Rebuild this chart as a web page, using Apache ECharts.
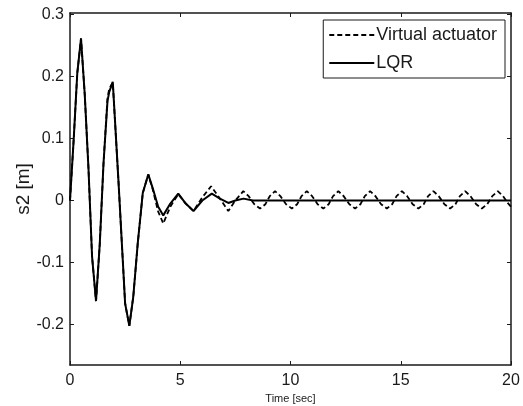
<!DOCTYPE html>
<html>
<head>
<meta charset="utf-8">
<script src="https://cdn.jsdelivr.net/npm/echarts@6/dist/echarts.min.js"></script>
<style>
  html, body { margin: 0; padding: 0; background: #fff; }
  #chart { width: 523px; height: 406px; }
</style>
</head>
<body>
<div id="chart"></div>
<script>
// values
const timeLqr = [0, 0.17, 0.33, 0.5, 0.67, 0.84, 1.0, 1.18, 1.35, 1.52, 1.7, 1.78, 1.94, 2.2, 2.5, 2.69,
  2.87, 3.07, 3.3, 3.55, 3.75, 4.0, 4.23, 4.55, 4.91, 5.25, 5.6, 6.0, 6.43, 6.8, 7.18, 7.5, 7.87, 8.3, 20];
const lqr = [0, 0.1, 0.205, 0.261, 0.17, 0.05, -0.09, -0.162, -0.07, 0.06, 0.16, 0.175, 0.191, 0.03, -0.166, -0.202,
  -0.155, -0.07, 0.012, 0.042, 0.02, -0.01, -0.024, -0.005, 0.011, -0.005, -0.017, 0, 0.011, 0.003, -0.004, 0, 0.003, 0, 0];

const timeVa = [0, 0.17, 0.33, 0.5, 0.67, 0.84, 1.0, 1.18, 1.35, 1.52, 1.7, 1.78, 1.94, 2.2, 2.5, 2.69,
  2.87, 3.07, 3.3, 3.55, 3.75, 4.0, 4.23, 4.55, 4.91, 5.25, 5.6, 6.0, 6.4, 6.8, 7.18, 7.5,
  7.86, 8.1, 8.36, 8.62, 8.86, 9.06, 9.3, 9.54, 9.8, 10.06, 10.3, 10.5, 10.74, 10.98, 11.23, 11.49,
  11.73, 11.93, 12.17, 12.41, 12.67, 12.93, 13.17, 13.37, 13.61, 13.85, 14.11, 14.37, 14.61, 14.81,
  15.05, 15.29, 15.54, 15.8, 16.04, 16.24, 16.48, 16.72, 16.98, 17.24, 17.48, 17.68, 17.92, 18.16,
  18.42, 18.68, 18.92, 19.15, 19.4, 19.64, 19.85, 20];
const virtualActuator = [0, 0.1, 0.205, 0.261, 0.17, 0.05, -0.09, -0.162, -0.07, 0.06, 0.165, 0.18, 0.19, 0.03, -0.166, -0.202,
  -0.155, -0.07, 0.012, 0.042, 0.018, -0.018, -0.037, -0.01, 0.01, -0.005, -0.017, 0.005, 0.023, 0.003, -0.017, 0,
  0.015, 0.007, -0.006, -0.013, -0.006, 0.007, 0.015, 0.007, -0.006, -0.013, -0.006, 0.007, 0.015, 0.007, -0.006, -0.013,
  -0.006, 0.007, 0.015, 0.007, -0.006, -0.013, -0.006, 0.007, 0.015, 0.007, -0.006, -0.013, -0.006, 0.007,
  0.015, 0.007, -0.006, -0.013, -0.006, 0.007, 0.015, 0.007, -0.006, -0.013, -0.006, 0.007, 0.015, 0.007,
  -0.006, -0.013, -0.006, 0.007, 0.015, 0.007, -0.004, -0.01];

const yTicks = [-0.2, -0.1, 0, 0.1, 0.2, 0.3];
const xTicks = [0, 5, 10, 15, 20];

const pair = (ts, vs) => ts.map((t, i) => [t, vs[i]]);

const chart = echarts.init(document.getElementById('chart'));
const font = 'Liberation Sans, Arial, sans-serif';
const ink = '#1a1a1a';

const axisLine = { show: true, onZero: false, lineStyle: { color: ink, width: 1.5 } };
const tickIn = { show: true, inside: true, length: 4, lineStyle: { color: ink, width: 1 } };

chart.setOption({
  animation: false,
  backgroundColor: '#fff',
  grid: { left: 70, right: 12, top: 13, bottom: 41, outerBoundsMode: 'none', containLabel: false },
  legend: {
    right: 18, top: 20,
    orient: 'vertical',
    backgroundColor: '#fff',
    borderColor: ink, borderWidth: 1,
    padding: [6, 8, 6, 5],
    itemWidth: 45, itemHeight: 18, itemGap: 10,
    itemStyle: { opacity: 0 },
    textStyle: { fontFamily: font, fontSize: 18, color: ink, padding: [0, 0, 0, -3] },
    data: ['Virtual actuator', 'LQR']
  },
  xAxis: [{
    type: 'value', min: 0, max: 20, interval: 5,
    name: 'Time [sec]', nameLocation: 'middle', nameGap: 28, nameMoveOverlap: false,
    nameTextStyle: { fontFamily: font, fontSize: 11, color: ink },
    axisLine, axisTick: tickIn, splitLine: { show: false },
    axisLabel: { fontFamily: font, fontSize: 16, color: ink, margin: 8,
      customValues: xTicks }
  }, {
    type: 'value', min: 0, max: 20, interval: 5, position: 'top',
    axisLine, axisTick: tickIn, axisLabel: { show: false }, splitLine: { show: false }
  }],
  yAxis: [{
    type: 'value', min: -0.265, max: 0.302,
    name: 's2 [m]', nameLocation: 'middle', nameGap: 37, nameMoveOverlap: false,
    nameTextStyle: { fontFamily: font, fontSize: 19, color: ink },
    axisLine, splitLine: { show: false },
    axisTick: Object.assign({ customValues: yTicks }, tickIn),
    axisLabel: { fontFamily: font, fontSize: 16, color: ink, margin: 6,
      customValues: yTicks, formatter: v => String(Math.round(v * 10) / 10) }
  }, {
    type: 'value', min: -0.265, max: 0.302, position: 'right',
    axisLine, splitLine: { show: false },
    axisTick: Object.assign({ customValues: yTicks }, tickIn),
    axisLabel: { show: false }
  }],
  series: [
    {
      name: 'Virtual actuator', type: 'line', symbol: 'none',
      data: pair(timeVa, virtualActuator),
      lineStyle: { color: '#000', width: 1.8, type: [5, 3] },
      itemStyle: { color: '#000' }
    },
    {
      name: 'LQR', type: 'line', symbol: 'none',
      data: pair(timeLqr, lqr),
      lineStyle: { color: '#000', width: 2 },
      itemStyle: { color: '#000' }
    }
  ]
});
</script>
</body>
</html>
